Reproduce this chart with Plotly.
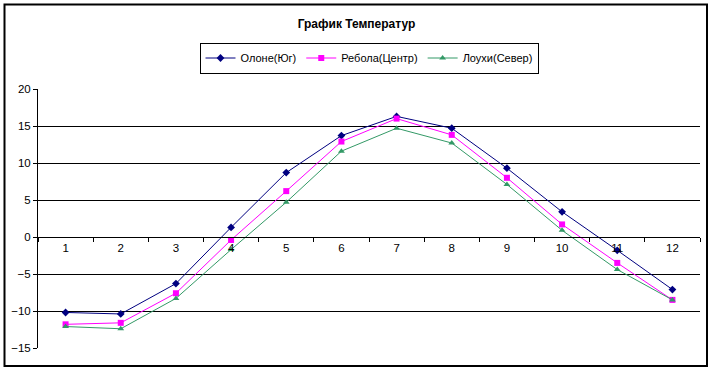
import plotly.graph_objects as go

months = ["1", "2", "3", "4", "5", "6", "7", "8", "9", "10", "11", "12"]
olone = [-10.2, -10.4, -6.3, 1.3, 8.7, 13.7, 16.3, 14.7, 9.3, 3.4, -1.8, -7.1]
rebola = [-11.8, -11.6, -7.6, -0.4, 6.2, 12.9, 16.0, 13.8, 8.0, 1.7, -3.5, -8.5]
louhi = [-12.1, -12.4, -8.3, -1.7, 4.7, 11.6, 14.7, 12.7, 7.1, 0.9, -4.4, -8.5]
y_min, y_max = -15, 20
grid_vals = [-10, -5, 5, 10, 15]

W, H = 713, 371
L, R, T, B = 38, 13, 89, 23
pw, ph = W - L - R, H - T - B

def px_x(x):
    return (x - L) / pw

def px_y(y):
    return (H - B - y) / ph

fig = go.Figure()
fig.add_trace(go.Scatter(x=months, y=olone, name="Олоне(Юг)", mode="lines+markers",
                         line=dict(color="#000080", width=1),
                         marker=dict(symbol="diamond", size=6, color="#000080")))
fig.add_trace(go.Scatter(x=months, y=rebola, name="Ребола(Центр)", mode="lines+markers",
                         line=dict(color="#FF00FF", width=1),
                         marker=dict(symbol="square", size=6, color="#FF00FF")))
fig.add_trace(go.Scatter(x=months, y=louhi, name="Лоухи(Север)", mode="lines+markers",
                         line=dict(color="#339966", width=1),
                         marker=dict(symbol="triangle-up", size=6, color="#339966")))

shapes = [dict(type="rect", xref="paper", yref="paper",
               x0=px_x(4.5), x1=px_x(707), y0=px_y(4.5), y1=px_y(366),
               line=dict(color="black", width=2), fillcolor="rgba(0,0,0,0)")]

zero_pos = (0 - y_min) / (y_max - y_min)

fig.update_layout(
    width=W, height=H,
    margin=dict(l=L, r=R, t=T, b=B),
    paper_bgcolor="white", plot_bgcolor="white",
    font=dict(family="Liberation Sans, Arial, sans-serif", size=11, color="black"),
    title=dict(text="<b>График Температур</b>", font=dict(size=12, color="black"),
               x=0.5, xref="container", xanchor="center",
               y=1 - 24 / H, yref="container", yanchor="middle"),
    legend=dict(orientation="h", x=0.5, xanchor="center", y=px_y(58), yanchor="middle",
                bordercolor="black", borderwidth=1, font=dict(size=11),
                itemwidth=30, bgcolor="white"),
    xaxis=dict(type="category", anchor="free", position=zero_pos,
               showline=True, linecolor="black", linewidth=1,
               ticks="outside", ticklen=4, tickcolor="black", tickson="boundaries",
               showgrid=False, zeroline=False, tickfont=dict(size=11.5),
               range=[-0.5, 11.5]),
    yaxis=dict(range=[y_min, y_max], dtick=5, showline=True, linecolor="black",
               linewidth=1, ticks="outside", ticklen=4, tickcolor="black",
               showgrid=False, zeroline=False, tickfont=dict(size=11.5)),
    yaxis2=dict(range=[y_min, y_max], overlaying="y", side="left", tickvals=grid_vals,
                showticklabels=False, ticks="", showgrid=True, gridcolor="black",
                gridwidth=1, zeroline=False, showline=False, layer="below traces"),
    shapes=shapes,
    showlegend=True,
)
# invisible trace to activate the grid axis
fig.add_trace(go.Scatter(x=[months[0]], y=[y_min], yaxis="y2", mode="markers",
                         marker=dict(opacity=0), showlegend=False, hoverinfo="skip"))

fig.write_html("out.html")
